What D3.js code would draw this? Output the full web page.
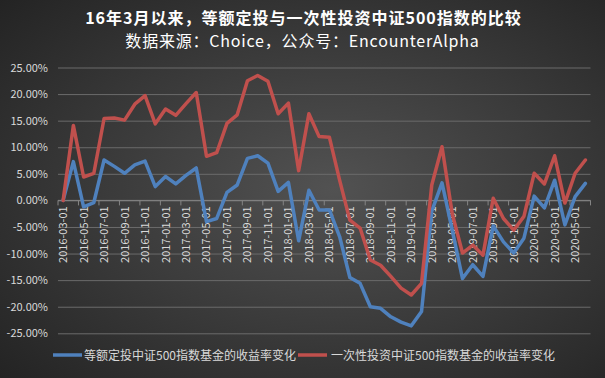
<!DOCTYPE html>
<html><head><meta charset="utf-8">
<script src="https://cdn.jsdelivr.net/npm/d3@7/dist/d3.min.js"></script>
<style>html,body{margin:0;padding:0;background:#333;}svg{display:block;}</style>
</head><body>
<svg id="chart" width="605" height="378"></svg>
<script>
const categories = [
 "2016-03-01","2016-04-01","2016-05-01","2016-06-01","2016-07-01","2016-08-01","2016-09-01","2016-10-01","2016-11-01","2016-12-01",
 "2017-01-01","2017-02-01","2017-03-01","2017-04-01","2017-05-01","2017-06-01","2017-07-01","2017-08-01","2017-09-01","2017-10-01","2017-11-01","2017-12-01",
 "2018-01-01","2018-02-01","2018-03-01","2018-04-01","2018-05-01","2018-06-01","2018-07-01","2018-08-01","2018-09-01","2018-10-01","2018-11-01","2018-12-01",
 "2019-01-01","2019-02-01","2019-03-01","2019-04-01","2019-05-01","2019-06-01","2019-07-01","2019-08-01","2019-09-01","2019-10-01","2019-11-01","2019-12-01",
 "2020-01-01","2020-02-01","2020-03-01","2020-04-01","2020-05-01","2020-06-01"];
const seriesNames = ["等额定投中证500指数基金的收益率变化","一次性投资中证500指数基金的收益率变化"];
const dcaValues = [0,7.3,-1.2,-0.4,7.6,6.4,5.1,6.7,7.4,2.6,
 4.5,3.1,4.7,6.1,-4.0,-3.4,1.5,2.9,7.9,8.4,7.0,1.7,
 3.4,-7.6,1.9,-1.8,-1.8,-6.8,-14.5,-15.6,-20.0,-20.3,-21.9,-22.9,
 -23.6,-20.9,-2.0,3.3,-5.6,-14.7,-12.1,-14.3,-4.8,-7.8,-9.9,-7.1,
 0.8,-1.4,3.8,-4.6,0.7,3.2];
const lumpValues = [0,14.1,4.4,5.1,15.4,15.5,15.1,18.1,19.7,14.4,
 17.2,16.0,18.2,20.3,8.3,9.0,14.5,16.1,22.5,23.5,22.4,16.3,
 18.3,5.6,16.3,12.0,11.9,3.8,-3.7,-5.2,-11.2,-12.2,-14.3,-16.5,
 -17.8,-15.6,2.9,10.1,-2.5,-9.9,-8.4,-10.3,0.4,-3.4,-5.6,-3.0,
 5.1,3.1,8.4,-0.5,5.1,7.6];
const yTicks = [25,20,15,10,5,0,-5,-10,-15,-20,-25];
const titleLines = ["16年3月以来，等额定投与一次性投资中证500指数的比较","数据来源：Choice，公众号：EncounterAlpha"];
const colors = ["#4f81bd","#c0504d"];

(function(){
const svg = d3.select("#chart");
const W = 605, H = 378;
const defs = svg.append("defs");
const rg = defs.append("radialGradient").attr("id","bg").attr("cx","55%").attr("cy","50%").attr("r","75%");
rg.append("stop").attr("offset","0%").attr("stop-color","#525252");
rg.append("stop").attr("offset","100%").attr("stop-color","#232323");
svg.append("rect").attr("width",W).attr("height",H).attr("fill","url(#bg)");

const font = "'Noto Sans CJK SC','Noto Sans',sans-serif";
const pL = 58, pR = 590.5, pT = 67.5, pB = 333.3;
const x = d3.scaleBand().domain(categories).range([pL,pR]).paddingInner(0).paddingOuter(0);
const y = d3.scaleLinear().domain([-25,25]).range([pB,pT]);
const cx = d => x(d) + x.bandwidth()/2;

svg.append("text").attr("x",W/2+1).attr("y",24).attr("text-anchor","middle")
  .attr("fill","#ffffff").attr("font-family",font).attr("font-weight","bold").attr("font-size",16)
  .attr("letter-spacing",1).text(titleLines[0]);
svg.append("text").attr("x",W/2).attr("y",47).attr("text-anchor","middle")
  .attr("fill","#ffffff").attr("font-family",font).attr("font-size",16)
  .attr("letter-spacing",0.8).text(titleLines[1]);

const yAxis = d3.axisLeft(y).tickValues(yTicks).tickSize(-(pR-pL)).tickPadding(10)
  .tickFormat(d => d.toFixed(2) + "%");
const yg = svg.append("g").attr("transform",`translate(${pL},0)`).call(yAxis);
yg.select(".domain").remove();
yg.selectAll(".tick line").attr("stroke","#6b6b6b").attr("stroke-width",1);
yg.selectAll(".tick text").attr("fill","#d9d9d9").attr("font-family",font).attr("font-size",11);

const y0 = y(0);
svg.append("line").attr("x1",pL).attr("x2",pR).attr("y1",y0).attr("y2",y0)
  .attr("stroke","#858585").attr("stroke-width",1);
const tickCats = categories.filter((d,i)=> i%2===0);
const tickXs = tickCats.map(d => x(d)).concat([pR]);
svg.append("g").selectAll("line").data(tickXs).join("line")
  .attr("x1",d => d).attr("x2",d => d)
  .attr("y1",y0).attr("y2",y0+5).attr("stroke","#858585");
svg.append("g").selectAll("text").data(tickCats).join("text")
  .attr("transform",d => `translate(${cx(d)+4},${y0+6}) rotate(-90)`)
  .attr("text-anchor","end").attr("fill","#d9d9d9").attr("font-family",font).attr("font-size",11)
  .text(d => d);

const line = d3.line().x((d,i)=>cx(categories[i])).y(d=>y(d));
[dcaValues, lumpValues].forEach((vals,k)=>{
  svg.append("path").datum(vals).attr("d",line).attr("fill","none")
    .attr("stroke",colors[k]).attr("stroke-width",3.5).attr("stroke-linejoin","round").attr("stroke-linecap","round");
});

const legendY = 355;
const legendPos = [[53,84],[298,331]];
seriesNames.forEach((name,k)=>{
  svg.append("line").attr("x1",legendPos[k][0]).attr("x2",legendPos[k][0]+29).attr("y1",legendY).attr("y2",legendY)
    .attr("stroke",colors[k]).attr("stroke-width",3.5);
  svg.append("text").attr("x",legendPos[k][1]).attr("y",legendY+4.5).attr("fill","#d9d9d9")
    .attr("font-family",font).attr("font-size",12).text(name);
});
})();
</script>
</body></html>
